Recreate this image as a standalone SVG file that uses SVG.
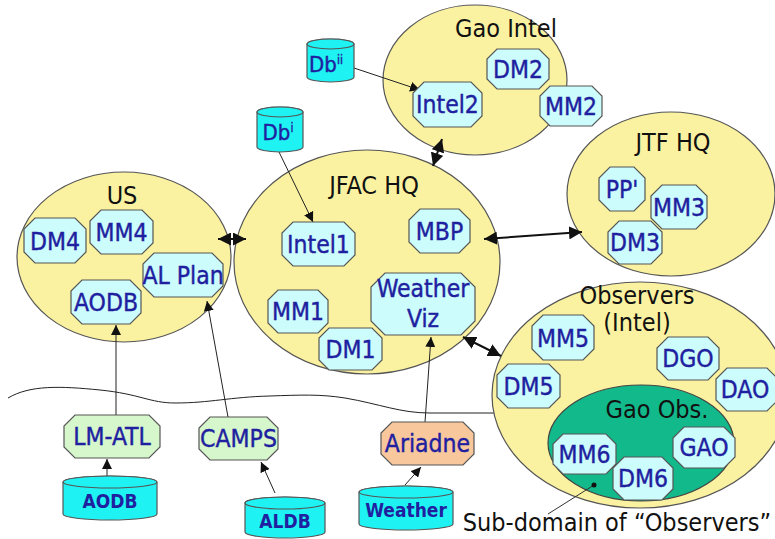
<svg xmlns="http://www.w3.org/2000/svg" width="775" height="539" viewBox="0 0 775 539">
<defs>
<style>
.dom{fill:#faf2a0;stroke:#555;stroke-width:1.2}
.sub{fill:#12b98a;stroke:#444;stroke-width:1.2}
.oct{fill:#ccfcfc;stroke:#555;stroke-width:1.2}
.grn{fill:#d6f6cc;stroke:#555;stroke-width:1.2}
.org{fill:#f8c89c;stroke:#555;stroke-width:1.2}
.cyl{fill:#1ff2f2;stroke:#555;stroke-width:1.2}
.lbl{font-family:"DejaVu Sans Condensed","DejaVu Sans",sans-serif;font-size:25px;fill:#111;text-anchor:middle}
.nt{font-family:"DejaVu Sans Condensed","DejaVu Sans",sans-serif;font-size:24.5px;fill:#1f1fa0;stroke:#1f1fa0;stroke-width:0.4;text-anchor:middle}
.ct{font-family:"DejaVu Sans Condensed","DejaVu Sans",sans-serif;font-size:19px;font-weight:bold;fill:#1f1fa0;text-anchor:middle}
.a1{stroke:#222;stroke-width:1;fill:none;marker-end:url(#ah)}
.a2{stroke:#111;stroke-width:2;fill:none;marker-start:url(#ah2);marker-end:url(#ah2)}
</style>
<marker id="ah" viewBox="0 0 10 10" refX="10" refY="5" markerWidth="10" markerHeight="10" markerUnits="userSpaceOnUse" orient="auto"><path d="M0,0 L10,5 L0,10 Z" fill="#111"/></marker>
<marker id="ah2" viewBox="0 0 10 10" refX="10" refY="5" markerWidth="6.5" markerHeight="6.5" orient="auto-start-reverse"><path d="M0,0 L10,5 L0,10 Z" fill="#111"/></marker>
</defs>
<rect width="775" height="539" fill="#fff"/>
<g id="boundary">
<path d="M8,398 C30,385 60,386 100,390 C140,394 150,403 175,403 C210,403 230,397 270,396 C300,395 320,394 345,398 C380,404 400,413 430,413 L500,413" fill="none" stroke="#222" stroke-width="1"/>
</g>
<g id="gao-intel"><ellipse class="dom" cx="475" cy="80" rx="92" ry="75"/><text class="lbl" x="506" y="37">Gao Intel</text></g>
<g id="us"><ellipse class="dom" cx="124" cy="257" rx="107" ry="85"/><text class="lbl" x="122" y="204">US</text></g>
<g id="jfac-hq"><ellipse class="dom" cx="367" cy="262" rx="133" ry="112"/><text class="lbl" x="374" y="194">JFAC HQ</text></g>
<g id="jtf-hq"><ellipse class="dom" cx="671" cy="194" rx="104" ry="82"/><text class="lbl" x="673" y="151">JTF HQ</text></g>
<g id="observers"><ellipse class="dom" cx="640" cy="395" rx="148" ry="113"/><text class="lbl" x="637" y="304">Observers</text><text class="lbl" x="637" y="331">(Intel)</text></g>
<g id="gao-obs"><ellipse class="sub" cx="641" cy="443" rx="93" ry="58"/><text class="lbl" x="657" y="418">Gao Obs.</text></g>
<g id="connectors">
<line class="a1" x1="354" y1="68" x2="420" y2="90"/>
<line class="a1" x1="279" y1="152" x2="313" y2="222"/>
<line class="a1" x1="107" y1="476" x2="107" y2="459"/>
<line class="a1" x1="275" y1="493" x2="261" y2="462"/>
<line class="a1" x1="405" y1="485" x2="421" y2="467"/>
<line class="a1" x1="116" y1="415" x2="116" y2="325"/>
<line class="a1" x1="228" y1="417" x2="207" y2="301"/>
<line class="a1" x1="425" y1="422" x2="431" y2="337"/>
<line class="a2" x1="218" y1="239" x2="246" y2="239"/>
<line class="a2" x1="433" y1="166" x2="442" y2="139"/>
<line class="a2" x1="484" y1="239" x2="582" y2="232"/>
<line class="a2" x1="463" y1="337" x2="501" y2="356"/>
<line x1="594" y1="485" x2="548" y2="514" stroke="#333" stroke-width="1"/>
<circle cx="594" cy="485" r="2.5" fill="#111"/>
</g>
<g id="db2"><path class="cyl" d="M307,44 A23.5,5 0 0 1 354,44 L354,77 A23.5,5 0 0 1 307,77 Z"/><ellipse class="cyl" cx="330.5" cy="44" rx="23.5" ry="5"/><text class="nt" x="326" y="72" style="font-size:22px">Db<tspan dy="-8" style="font-size:12px">ii</tspan></text></g>
<g id="db1"><path class="cyl" d="M257,112 A23,5 0 0 1 303,112 L303,147 A23,5 0 0 1 257,147 Z"/><ellipse class="cyl" cx="280" cy="112" rx="23" ry="5"/><text class="nt" x="278" y="140" style="font-size:22px">Db<tspan dy="-8" style="font-size:12px">i</tspan></text></g>
<g id="intel2"><polygon class="oct" points="424,82 471,82 482,93 482,116 471,127 424,127 413,116 413,93"/><text class="nt" x="447.5" y="113">Intel2</text></g>
<g id="dm2"><polygon class="oct" points="497,49 539,49 549,59 549,79 539,89 497,89 487,79 487,59"/><text class="nt" x="518" y="78">DM2</text></g>
<g id="mm2"><polygon class="oct" points="550,86 592,86 602,96 602,116 592,126 550,126 540,116 540,96"/><text class="nt" x="571" y="115">MM2</text></g>
<g id="intel1"><polygon class="oct" points="293,222 344,222 355,233 355,255 344,266 293,266 282,255 282,233"/><text class="nt" x="318.5" y="253">Intel1</text></g>
<g id="mbp"><polygon class="oct" points="420,209 459,209 470,220 470,242 459,253 420,253 409,242 409,220"/><text class="nt" x="439.5" y="240">MBP</text></g>
<g id="weather-viz"><polygon class="oct" points="385,273 461,273 475,287 475,321 461,335 385,335 371,321 371,287"/><text class="nt" x="423" y="297">Weather</text><text class="nt" x="423" y="327">Viz</text></g>
<g id="mm1"><polygon class="oct" points="278,290 318,290 328,300 328,323 318,333 278,333 268,323 268,300"/><text class="nt" x="298" y="320">MM1</text></g>
<g id="dm1"><polygon class="oct" points="329,328 372,328 382,338 382,360 372,370 329,370 319,360 319,338"/><text class="nt" x="350.5" y="358">DM1</text></g>
<g id="dm4"><polygon class="oct" points="35,218 75,218 86,229 86,252 75,263 35,263 24,252 24,229"/><text class="nt" x="55" y="250">DM4</text></g>
<g id="mm4"><polygon class="oct" points="101,210 142,210 153,221 153,243 142,254 101,254 90,243 90,221"/><text class="nt" x="121.5" y="241">MM4</text></g>
<g id="al-plan"><polygon class="oct" points="154,253 212,253 223,264 223,286 212,297 154,297 143,286 143,264"/><text class="nt" x="183" y="284">AL Plan</text></g>
<g id="aodb-node"><polygon class="oct" points="82,280 130,280 141,291 141,313 130,324 82,324 71,313 71,291"/><text class="nt" x="106" y="311">AODB</text></g>
<g id="pp"><polygon class="oct" points="610,167 634,167 645,178 645,200 634,211 610,211 599,200 599,178"/><text class="nt" x="622" y="198">PP'</text></g>
<g id="mm3"><polygon class="oct" points="662,185 696,185 707,196 707,218 696,229 662,229 651,218 651,196"/><text class="nt" x="679" y="216">MM3</text></g>
<g id="dm3"><polygon class="oct" points="619,221 651,221 662,232 662,253 651,264 619,264 608,253 608,232"/><text class="nt" x="635" y="251">DM3</text></g>
<g id="mm5"><polygon class="oct" points="543,315 583,315 594,326 594,349 583,360 543,360 532,349 532,326"/><text class="nt" x="563" y="347">MM5</text></g>
<g id="dm5"><polygon class="oct" points="508,364 549,364 560,375 560,397 549,408 508,408 497,397 497,375"/><text class="nt" x="528.5" y="395">DM5</text></g>
<g id="dgo"><polygon class="oct" points="668,337 708,337 719,348 719,369 708,380 668,380 657,369 657,348"/><text class="nt" x="688" y="367">DGO</text></g>
<g id="dao"><polygon class="oct" points="727,368 767,368 778,379 778,400 767,411 727,411 716,400 716,379"/><text class="nt" x="745" y="398">DAO</text></g>
<g id="mm6"><polygon class="oct" points="563,434 606,434 616,444 616,464 606,474 563,474 553,464 553,444"/><text class="nt" x="584.5" y="463">MM6</text></g>
<g id="dm6"><polygon class="oct" points="624,457 662,457 673,468 673,489 662,500 624,500 613,489 613,468"/><text class="nt" x="643" y="487">DM6</text></g>
<g id="gao"><polygon class="oct" points="684,427 724,427 735,438 735,457 724,468 684,468 673,457 673,438"/><text class="nt" x="704" y="456">GAO</text></g>
<g id="lm-atl"><polygon class="grn" points="75,415 149,415 160,426 160,447 149,458 75,458 64,447 64,426"/><text class="nt" x="112" y="445">LM-ATL</text></g>
<g id="camps"><polygon class="grn" points="210,417 267,417 278,428 278,449 267,460 210,460 199,449 199,428"/><text class="nt" x="238.5" y="447">CAMPS</text></g>
<g id="ariadne"><polygon class="org" points="392,422 463,422 474,433 474,454 463,465 392,465 381,454 381,433"/><text class="nt" x="427.5" y="452">Ariadne</text></g>
<g id="aodb-db"><path class="cyl" d="M63,482 A47,6 0 0 1 157,482 L157,514 A47,6 0 0 1 63,514 Z"/><ellipse class="cyl" cx="110" cy="482" rx="47" ry="6"/><text class="ct" x="110" y="508">AODB</text></g>
<g id="aldb"><path class="cyl" d="M245,503 A40,6 0 0 1 325,503 L325,532 A40,6 0 0 1 245,532 Z"/><ellipse class="cyl" cx="285" cy="503" rx="40" ry="6"/><text class="ct" x="285" y="528">ALDB</text></g>
<g id="weather-db"><path class="cyl" d="M359,492 A47,6 0 0 1 453,492 L453,524 A47,6 0 0 1 359,524 Z"/><ellipse class="cyl" cx="406" cy="492" rx="47" ry="6"/><text class="ct" x="406" y="517">Weather</text></g>
<g id="note"><text class="lbl" x="617" y="531">Sub-domain of “Observers”</text></g>
</svg>
